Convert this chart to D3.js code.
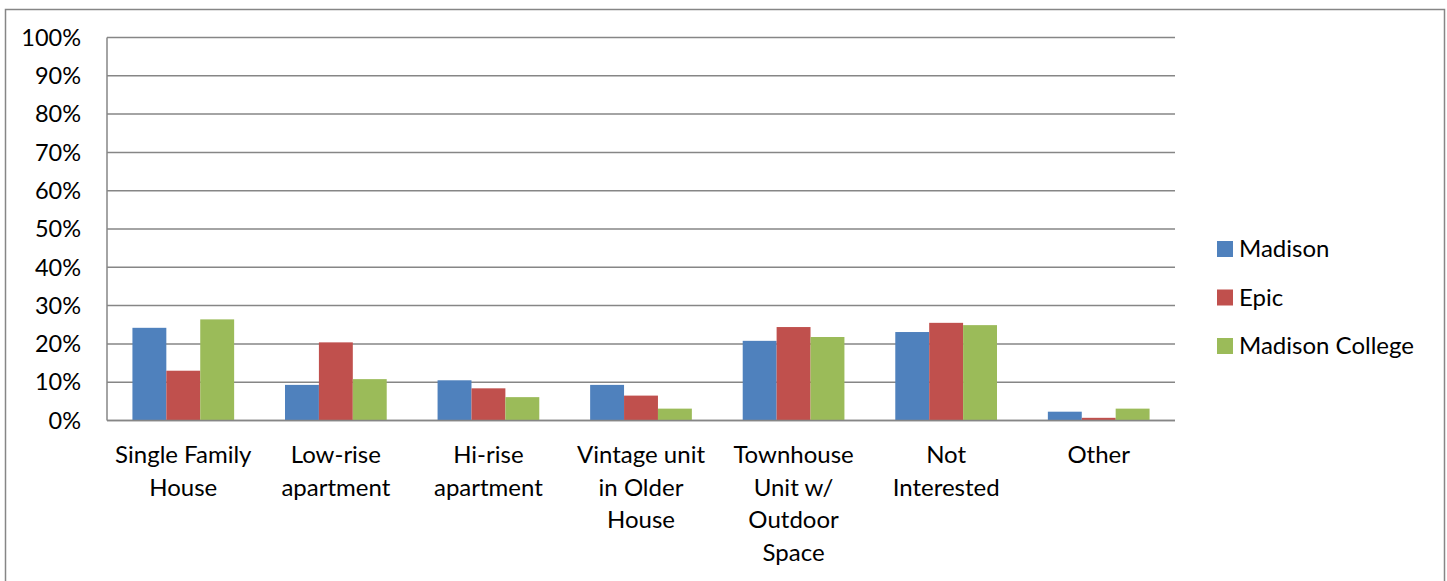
<!DOCTYPE html>
<html>
<head>
<meta charset="utf-8">
<script src="https://cdn.jsdelivr.net/npm/d3@7"></script>
<style>
  html, body { margin: 0; padding: 0; background: #fff; }
  svg { display: block; }
  text { font-family: Lato, "Open Sans", sans-serif; fill: #000; }
</style>
</head>
<body>
<svg id="chart" width="1447" height="581"></svg>
<script>
const categories = [
  ["Single Family", "House"],
  ["Low-rise", "apartment"],
  ["Hi-rise", "apartment"],
  ["Vintage unit", "in Older", "House"],
  ["Townhouse", "Unit w/", "Outdoor", "Space"],
  ["Not", "Interested"],
  ["Other"]
];
const seriesNames = ["Madison", "Epic", "Madison College"];
const madison = [0.242, 0.093, 0.105, 0.093, 0.208, 0.231, 0.023];
const epic    = [0.130, 0.204, 0.084, 0.065, 0.244, 0.255, 0.007];
const college = [0.264, 0.108, 0.061, 0.031, 0.218, 0.249, 0.031];
const seriesColors = ["#4F81BD", "#C0504D", "#9BBB59"];
const yTicks = [0, 0.1, 0.2, 0.3, 0.4, 0.5, 0.6, 0.7, 0.8, 0.9, 1.0];

const values = [madison, epic, college];
const svg = d3.select("#chart");

// outer frame
svg.append("rect")
  .attr("x", 5.5).attr("y", 9.5)
  .attr("width", 1439).attr("height", 600)
  .attr("fill", "none").attr("stroke", "#868686").attr("stroke-width", 1.5);

const plot = { left: 107, right: 1175, top: 37.5, bottom: 420.5 };

const catIdx = categories.map((d, i) => i);
const p = 1 / 3;
const x0 = d3.scaleBand().domain(catIdx)
  .range([plot.left, plot.right]).paddingInner(p).paddingOuter(p / 2);
const x1 = d3.scaleBand().domain([0, 1, 2]).range([0, x0.bandwidth()]);
const y = d3.scaleLinear().domain([0, 1]).range([plot.bottom, plot.top]);

// gridlines
svg.append("g").selectAll("line").data(yTicks).join("line")
  .attr("x1", plot.left).attr("x2", plot.right)
  .attr("y1", d => y(d)).attr("y2", d => y(d))
  .attr("stroke", "#868686").attr("stroke-width", 1.5);

// y axis line
svg.append("line")
  .attr("x1", plot.left).attr("x2", plot.left)
  .attr("y1", plot.top).attr("y2", plot.bottom)
  .attr("stroke", "#868686").attr("stroke-width", 1.5);

// y tick labels
svg.append("g").selectAll("text").data(yTicks).join("text")
  .attr("x", 81).attr("y", d => y(d))
  .attr("dy", "0.35em")
  .attr("text-anchor", "end")
  .attr("font-size", 23.5)
  .text(d => d3.format(".0%")(d));

// bars
const groups = svg.append("g").selectAll("g").data(catIdx).join("g")
  .attr("transform", d => `translate(${x0(d)},0)`);
groups.selectAll("rect")
  .data(ci => values.map((s, si) => ({ si, v: s[ci] })))
  .join("rect")
  .attr("x", d => x1(d.si))
  .attr("width", x1.bandwidth())
  .attr("y", d => y(d.v))
  .attr("height", d => y(0) - y(d.v))
  .attr("fill", d => seriesColors[d.si]);

// baseline on top
svg.append("line")
  .attr("x1", plot.left).attr("x2", plot.right)
  .attr("y1", y(0)).attr("y2", y(0))
  .attr("stroke", "#868686").attr("stroke-width", 1.5);

// category labels
const lab = svg.append("g").selectAll("text").data(catIdx).join("text")
  .attr("text-anchor", "middle")
  .attr("font-size", 24)
  .attr("x", d => x0(d) + x0.bandwidth() / 2)
  .attr("y", 463);
lab.selectAll("tspan").data(d => categories[d]).join("tspan")
  .attr("x", function () { return d3.select(this.parentNode).attr("x"); })
  .attr("dy", (d, i) => i === 0 ? 0 : 32.5)
  .text(d => d);

// legend
const leg = svg.append("g").selectAll("g").data(seriesNames).join("g")
  .attr("transform", (d, i) => `translate(1217,${241 + i * 48.5})`);
leg.append("rect").attr("width", 16).attr("height", 16)
  .attr("fill", (d, i) => seriesColors[i]);
leg.append("text").attr("x", 22).attr("y", 8).attr("dy", "0.35em")
  .attr("font-size", 24).text(d => d);
</script>
</body>
</html>
